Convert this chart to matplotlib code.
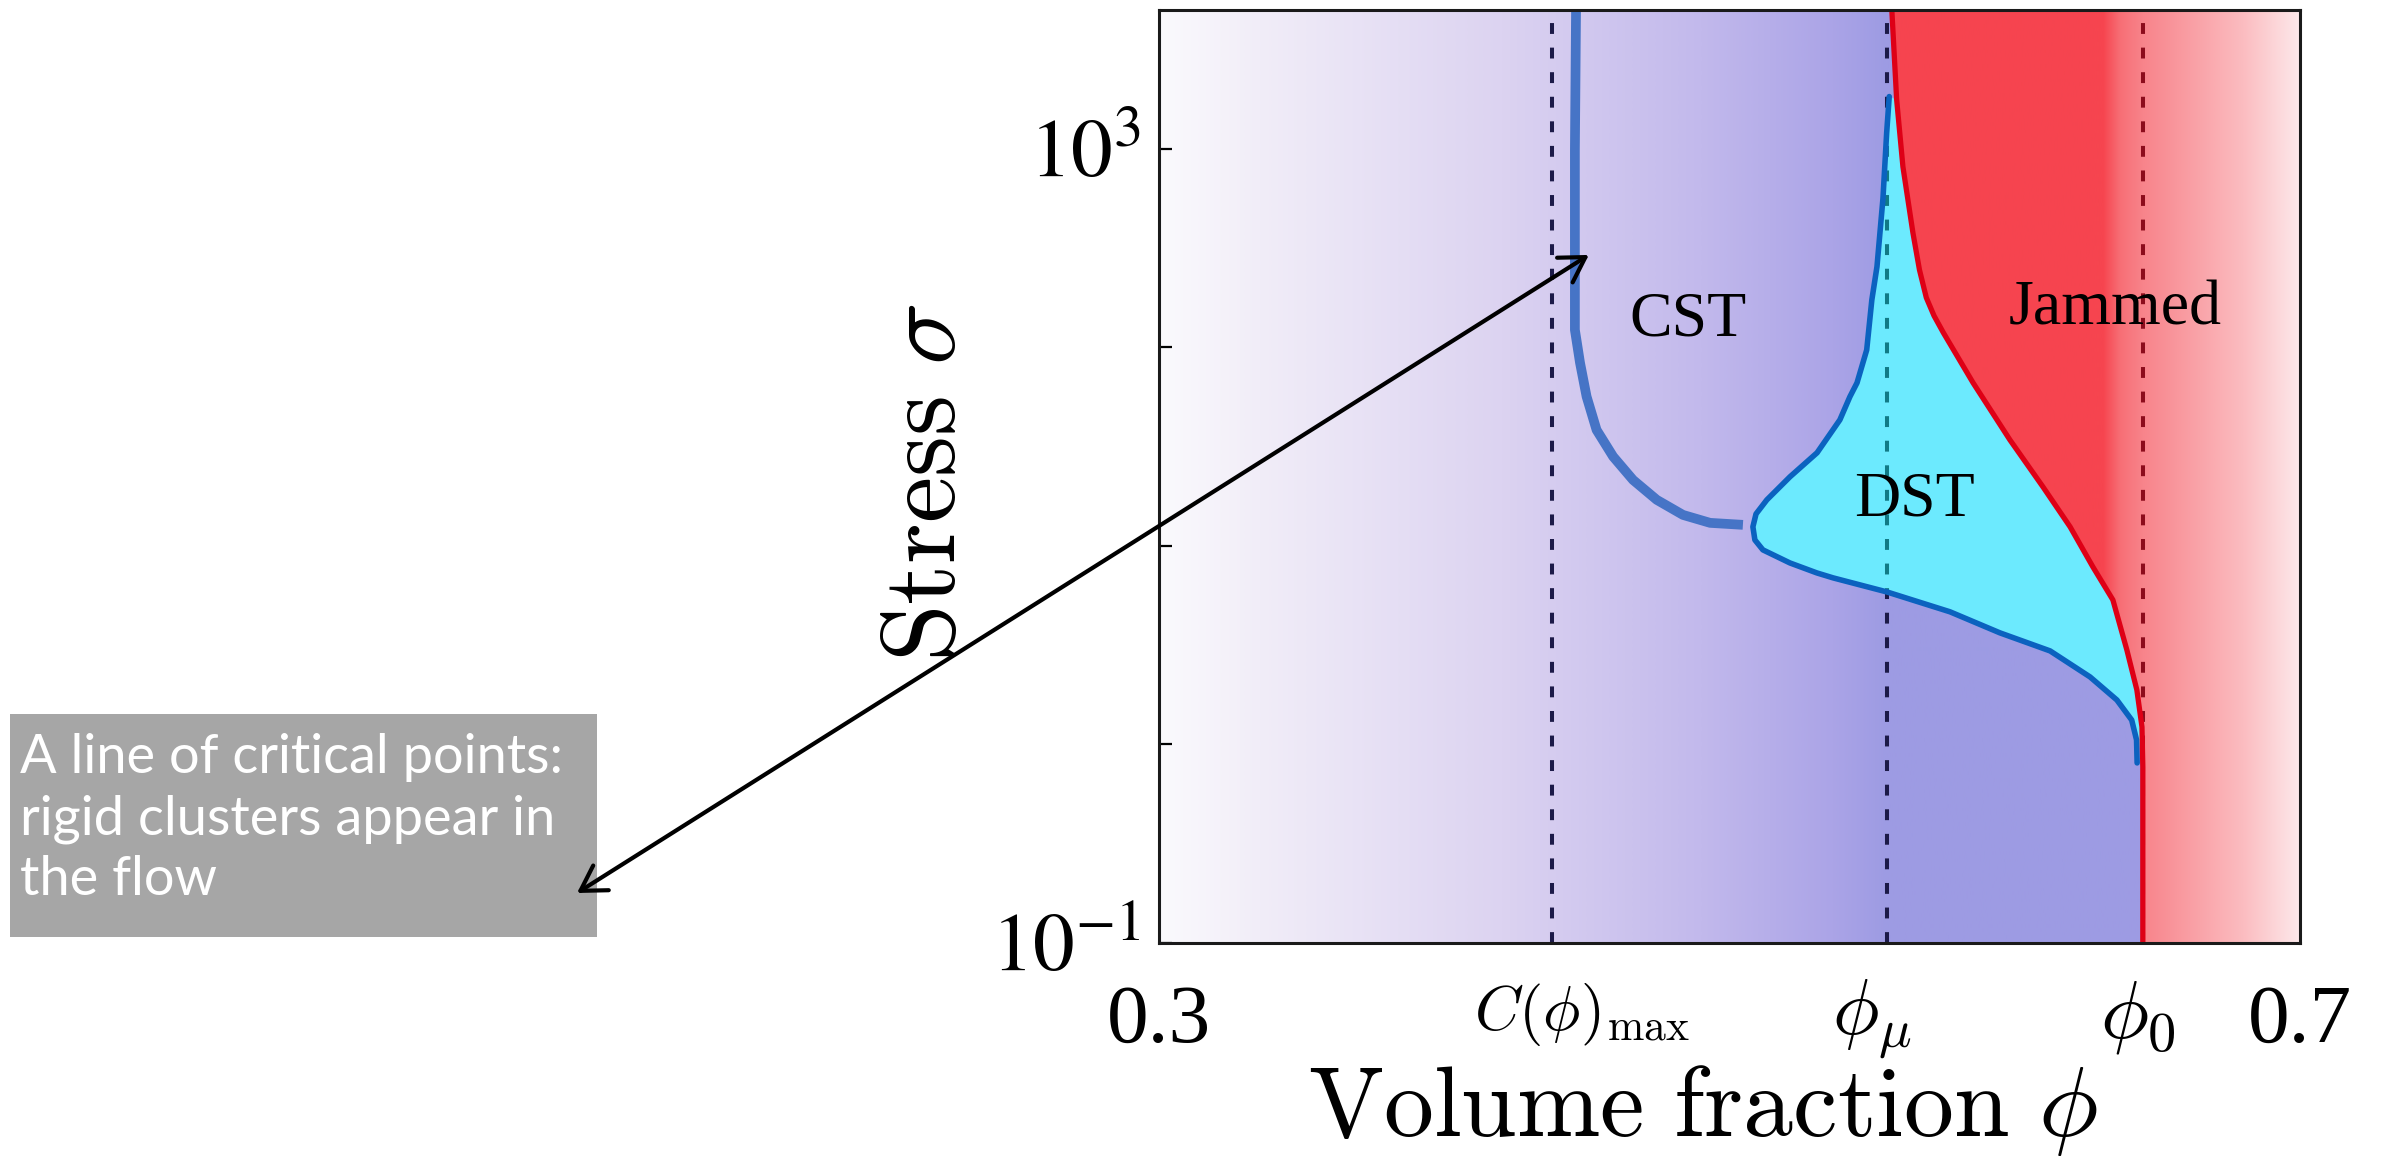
import numpy as np
import matplotlib
matplotlib.use("Agg")
import matplotlib.pyplot as plt
from matplotlib.colors import to_rgb
from matplotlib.patches import Rectangle
from matplotlib.ticker import FixedLocator, NullLocator
from matplotlib.transforms import ScaledTranslation

plt.rcParams["font.family"] = ["Liberation Serif", "DejaVu Serif"]
plt.rcParams["mathtext.fontset"] = "stix"

# characteristic volume fractions shown on the x axis
phi_ticks = [0.3, 0.4377, 0.5552, 0.6449, 0.7]
phi_tick_labels = ["0.3", r"$C(\phi)_{\max}$", r"$\phi_\mu$", r"$\phi_0$", "0.7"]
phi_c_max, phi_mu, phi_0 = phi_ticks[1:4]

# line of critical points (continuous shear thickening)
cst_phi = [0.4462, 0.4458, 0.4458, 0.4458, 0.4476, 0.4499, 0.4534, 0.4592,
           0.4662, 0.4745, 0.4837, 0.4932, 0.5047]
cst_logsig = [3.700, 2.995, 2.491, 2.088, 1.922, 1.752, 1.584, 1.450,
              1.332, 1.232, 1.156, 1.116, 1.106]

# jamming boundary
jam_phi = [0.5569, 0.5586, 0.5608, 0.5643, 0.5666, 0.5690, 0.5717, 0.5750,
           0.5854, 0.5983, 0.6099, 0.6194, 0.6274, 0.6344, 0.6393, 0.6428,
           0.6446, 0.6449, 0.6449]
jam_logsig = [3.700, 3.247, 2.909, 2.577, 2.390, 2.250, 2.159, 2.073,
              1.821, 1.534, 1.297, 1.096, 0.894, 0.728, 0.476, 0.275,
              0.088, -0.113, -1.000]

# discontinuous shear thickening boundary (from the upper tip round the nose)
dst_phi = [0.5560, 0.5551, 0.5538, 0.5517, 0.5499, 0.5481, 0.5447, 0.5422,
           0.5387, 0.5307, 0.5212, 0.5131, 0.5093, 0.5082, 0.5089, 0.5117,
           0.5212, 0.5306, 0.5363, 0.5552, 0.5773, 0.5948, 0.6124, 0.6264,
           0.6358, 0.6410, 0.6427, 0.6429]
dst_logsig = [3.263, 3.081, 2.750, 2.406, 2.239, 1.987, 1.821, 1.751,
              1.635, 1.469, 1.348, 1.232, 1.161, 1.096, 1.030, 0.980,
              0.914, 0.864, 0.839, 0.768, 0.668, 0.562, 0.471, 0.340,
              0.224, 0.123, 0.023, -0.093]

region_labels = [("CST", 0.4855, 2.133), ("DST", 0.565, 1.227), ("Jammed", 0.6353, 2.189)]

note_lines = ["A line of critical points:", "rigid clusters appear in", "the flow"]

# colour ramps along phi
purple_stops = [(0.30, "#fbfafd"), (0.335, "#f1edf8"), (0.42, "#dcd3f1"),
                (0.49, "#c2b9ec"), (0.536, "#aba4e7"), (0.555, "#9d9be3"), (0.70, "#9d9be3")]
red_stops = [(0.30, "#f6444f"), (0.631, "#f6454f"), (0.637, "#f76f76"),
             (0.645, "#f8848b"), (0.68, "#fbbcc0"), (0.70, "#fde9eb")]

W, H = 2381, 1156
YMIN, YMAX = 0.1, 5000


def ramp(stops):
    xs = np.linspace(0.3, 0.7, 1200)
    pos = [s[0] for s in stops]
    cols = np.array([to_rgb(s[1]) for s in stops])
    img = np.stack([np.interp(xs, pos, cols[:, k]) for k in range(3)], axis=-1)
    return img[np.newaxis, :, :]


cst_sig = 10 ** np.array(cst_logsig)
jam_sig = 10 ** np.array(jam_logsig)
dst_sig = 10 ** np.array(dst_logsig)
jam_phi = np.array(jam_phi)

fig = plt.figure(figsize=(W / 100, H / 100), dpi=100)
ax = fig.add_axes([1159 / W, 1 - 943 / H, 1141 / W, 933 / H])
ax.set_yscale("log")
ax.set_autoscale_on(False)
ax.set_xlim(0.3, 0.7)
ax.set_ylim(YMIN, YMAX)

# background shading
ax.imshow(ramp(purple_stops), extent=[0.3, 0.7, 0, 1], transform=ax.get_xaxis_transform(),
          aspect="auto", interpolation="bilinear", zorder=0)

# dashed reference lines
dash = dict(linestyle=(0, (2.7, 3.4)), lw=2.9)
for p in (phi_c_max, phi_mu, phi_0):
    ax.axvline(p, color="#1c1a48", zorder=1, **dash)

# jammed region: red ramp clipped to the area right of the jamming line
jam_patch = ax.fill(np.r_[jam_phi, 0.7, 0.7], np.r_[jam_sig, YMIN, YMAX * 1.1],
                    facecolor="none", edgecolor="none")[0]
red = ax.imshow(ramp(red_stops), extent=[0.3, 0.7, 0, 1], transform=ax.get_xaxis_transform(),
                aspect="auto", interpolation="bilinear", zorder=2)
red.set_clip_path(jam_patch)
red_dash = ax.axvline(phi_0, color="#8c0c1c", zorder=3, **dash)
red_dash.set_clip_path(jam_patch)

# DST pocket between its own boundary and the jamming line
inner = (jam_sig > 10 ** -0.05) & (jam_sig < 10 ** 3.26)
dst_x = np.r_[dst_phi, jam_phi[inner][::-1]]
dst_y = np.r_[dst_sig, jam_sig[inner][::-1]]
dst_patch = ax.fill(dst_x, dst_y, facecolor="#6ceafe", edgecolor="none", zorder=2)[0]
teal_dash = ax.axvline(phi_mu, color="#117a86", zorder=3, **dash)
teal_dash.set_clip_path(dst_patch)

ax.plot(dst_phi, dst_sig, color="#0b62bf", lw=4, zorder=4, solid_capstyle="round",
        solid_joinstyle="round")
ax.plot(jam_phi, jam_sig, color="#de0016", lw=3.8, zorder=4, solid_joinstyle="round")
ax.plot(cst_phi, cst_sig, color="#4674c6", lw=7, zorder=4, solid_capstyle="butt",
        solid_joinstyle="round")

for name, x, ls in region_labels:
    ax.text(x, 10 ** ls, name, ha="center", va="center", fontsize=46, zorder=5)

# axes frame and ticks
for s in ax.spines.values():
    s.set_linewidth(2.2)
    s.set_color("#1a1a1a")
    s.set_zorder(6)

ax.yaxis.set_major_locator(FixedLocator([0.1, 1, 10, 100, 1000]))
ax.yaxis.set_minor_locator(NullLocator())
ax.set_yticklabels([r"$10^{-1}$", "", "", "", r"$10^{3}$"], fontsize=60)
ax.tick_params(axis="y", which="major", direction="in", length=9.5, width=1.6,
               left=True, right=True, pad=13)

ax.set_xticks(phi_ticks)
ax.set_xticklabels(phi_tick_labels)
ax.tick_params(axis="x", length=0, pad=30)
# per-label size and nudge (pixels) so the symbols sit like hand-placed labels
label_style = [(60, 0, 0), (45, 30, 4), (56, -15, 8), (58, -5, 6), (60, 0, 0)]
for lab, (size, dx, dy) in zip(ax.get_xticklabels(), label_style):
    lab.set_fontsize(size)
    if "$" in lab.get_text():
        lab.set_math_fontfamily("cm")
    lab.set_transform(lab.get_transform() + ScaledTranslation(dx / 100, dy / 100, fig.dpi_scale_trans))

ax.set_xlabel(r"$\mathrm{Volume\ fraction}\ \phi$", fontsize=72, math_fontfamily="cm")
ax.xaxis.set_label_coords(0.4768, -0.1286)
ax.xaxis.label.set_va("top")
ax.set_ylabel(r"$\mathrm{Stress}\ \sigma$", fontsize=75, math_fontfamily="cm")
ax.yaxis.set_label_coords(-0.2007, 0.494)
ax.yaxis.label.set_va("center")

# note box with the double arrow pointing at the critical line
fig.add_artist(Rectangle((10 / W, 1 - 937 / H), 587 / W, 223 / H, transform=fig.transFigure,
                         facecolor="#a6a6a6", edgecolor="none", zorder=-1))
for i, line in enumerate(note_lines):
    fig.text(20 / W, 1 - (773 + 61 * i) / H, line, color="white", fontsize=39,
             family="Lato", va="baseline")

ax.annotate("", xy=(0.4507, 292), xycoords="data",
            xytext=(577 / W, 1 - 893 / H), textcoords="figure fraction",
            arrowprops=dict(arrowstyle="<->,head_length=0.5,head_width=0.3", color="black",
                            lw=3, mutation_scale=35, shrinkA=0, shrinkB=0),
            annotation_clip=False, zorder=10)

fig.savefig("out.png", dpi=100)
